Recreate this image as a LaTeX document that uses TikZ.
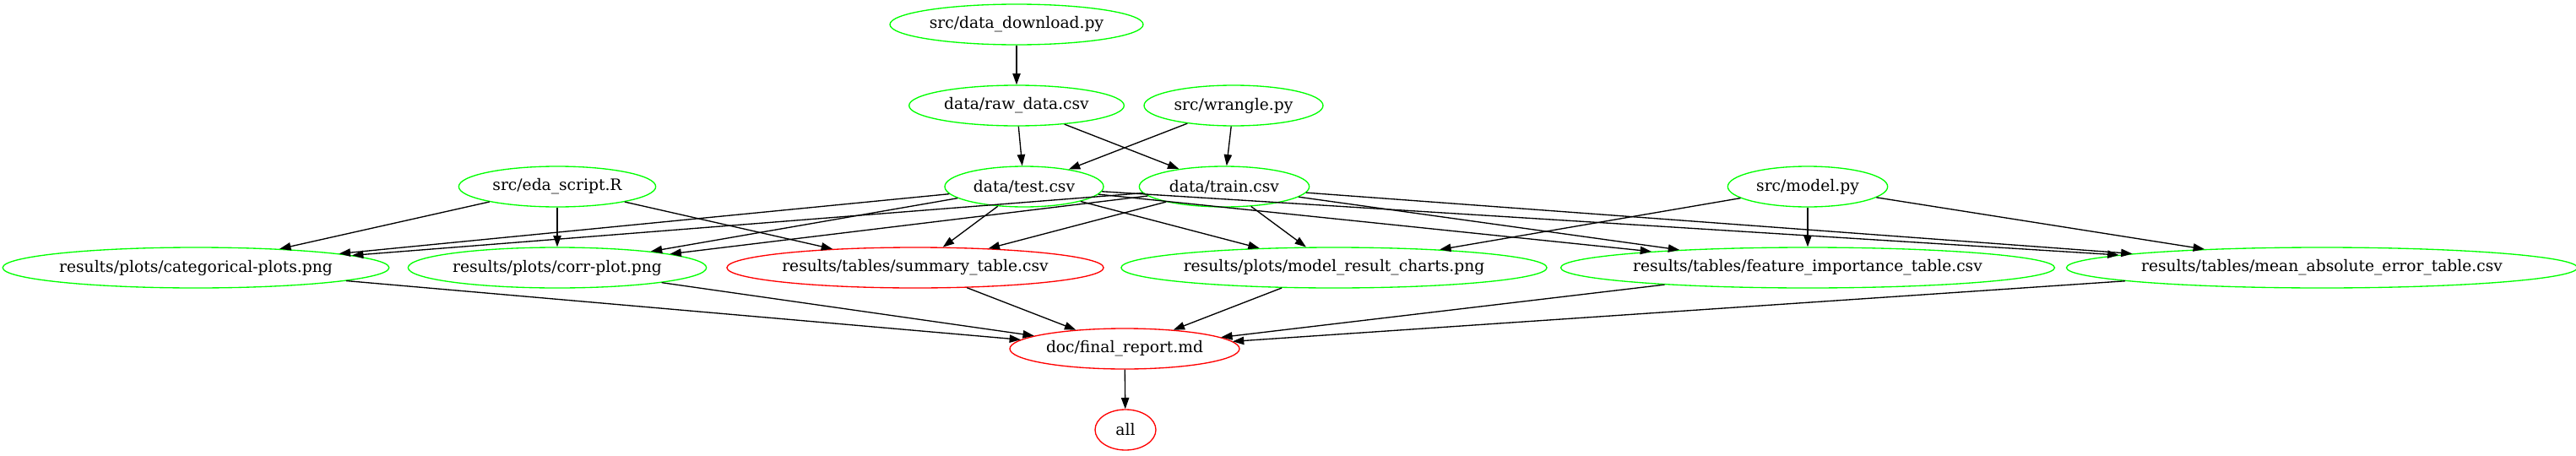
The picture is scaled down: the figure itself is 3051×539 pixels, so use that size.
\documentclass[tikz,border=0pt]{standalone}
\usepackage{fontspec}
\setmainfont{DejaVu Serif}
\usepackage{tikz}
\usetikzlibrary{shapes,arrows.meta}
\tikzset{target/.style={ellipse, line width=1pt, inner sep=0pt, minimum height=36pt, font=\fontsize{14}{16}\selectfont},
         dep/.style={-{Triangle[length=10pt,width=7pt]}, line width=1pt}}
\newcommand{\mfnode}[5] {\node at (#1) (#2) [target, draw=#3, minimum width=#4] {#5};}
\newcommand{\mfdep}[2] {\draw [dep] (#1) -- (#2);}

\begin{document}
\begin{tikzpicture}[x=0.75pt,y=-0.75pt]
\useasboundingbox (0,0) rectangle (3051,539);

\mfnode {1204,29}{download}{green}{225pt}{src/data\_download.py};
\mfnode {1204,125}{raw}{green}{191pt}{data/raw\_data.csv};
\mfnode {1461,125}{wrangle}{green}{159pt}{src/wrangle.py};
\mfnode {1213,221}{test}{green}{141pt}{data/test.csv};
\mfnode {1450,221}{train}{green}{151pt}{data/train.csv};
\mfnode {660,221}{eda}{green}{175pt}{src/eda\_script.R};
\mfnode {2141,221}{model}{green}{142pt}{src/model.py};
\mfnode {232,317}{catplots}{green}{340pt}{results/plots/categorical-plots.png};
\mfnode {660,317}{corrplot}{green}{265pt}{results/plots/corr-plot.png};
\mfnode {1084,317}{summary}{red}{334pt}{results/tables/summary\_table.csv};
\mfnode {1580,317}{charts}{green}{373pt}{results/plots/model\_result\_charts.png};
\mfnode {2141,317}{featimp}{green}{431pt}{results/tables/feature\_importance\_table.csv};
\mfnode {2750,317}{mae}{green}{445pt}{results/tables/mean\_absolute\_error\_table.csv};
\mfnode {1332,413}{report}{red}{204pt}{doc/final\_report.md};
\mfnode {1333,509}{all}{red}{54pt}{all};

\mfdep{download}{raw};
\mfdep{raw}{test};
\mfdep{raw}{train};
\mfdep{wrangle}{test};
\mfdep{wrangle}{train};

\mfdep{eda}{catplots};
\mfdep{eda}{corrplot};
\mfdep{eda}{summary};

\mfdep{test}{catplots};
\mfdep{test}{corrplot};
\mfdep{test}{summary};
\mfdep{test}{charts};
\mfdep{test}{featimp};
\mfdep{test}{mae};

\mfdep{train}{catplots};
\mfdep{train}{corrplot};
\mfdep{train}{summary};
\mfdep{train}{charts};
\mfdep{train}{featimp};
\mfdep{train}{mae};

\mfdep{model}{charts};
\mfdep{model}{featimp};
\mfdep{model}{mae};

\mfdep{catplots}{report};
\mfdep{corrplot}{report};
\mfdep{summary}{report};
\mfdep{charts}{report};
\mfdep{featimp}{report};
\mfdep{mae}{report};
\mfdep{report}{all};

\end{tikzpicture}
\end{document}
